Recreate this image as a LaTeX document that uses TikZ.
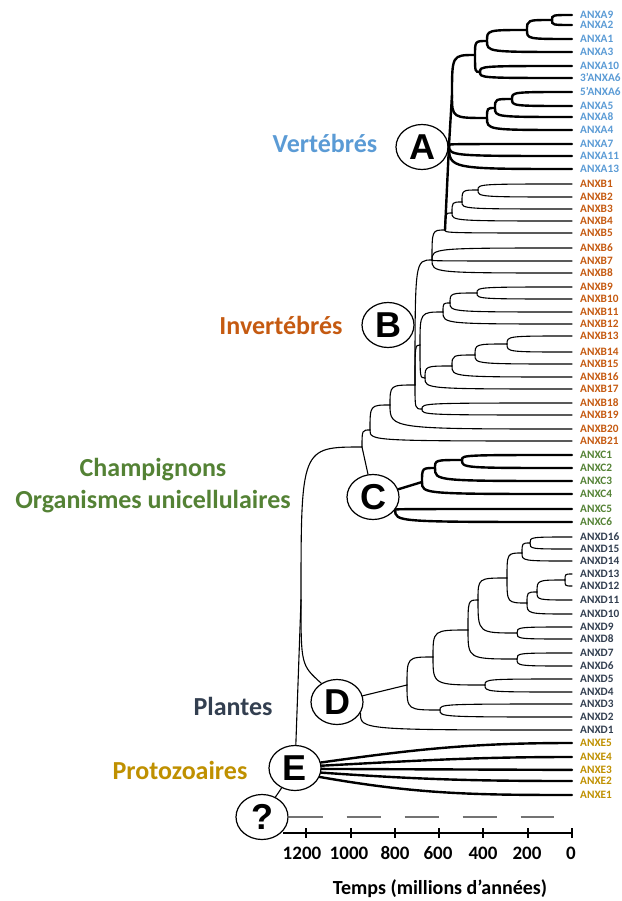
\documentclass[tikz,border=0pt]{standalone}
\usepackage{fontspec}
\setmainfont{Carlito}
\newfontfamily\circfont{Liberation Sans}
\usetikzlibrary{shapes.geometric}

\definecolor{vblue}{HTML}{5B9BD5}
\definecolor{iorange}{HTML}{C55A11}
\definecolor{cgreen}{HTML}{548235}
\definecolor{pslate}{HTML}{333F50}
\definecolor{pgold}{HTML}{BF9000}

% one branch: leaves the parent vertically, reaches the child horizontally
\newcommand{\br}[2]{\draw (#1) .. controls (#1 |- #2) .. (#2);}

\begin{document}
\begin{tikzpicture}[x=1pt,y=-1pt,
  thn/.style={line width=1.1pt,line cap=round},
  thk/.style={line width=2.4pt,line cap=round},
  leaf/.style={anchor=west,inner xsep=8pt,inner ysep=0pt,text height=7.3pt,text depth=0pt,
    font=\fontsize{11.3}{12}\selectfont\bfseries},
  lfA/.style={leaf,text=vblue},
  lfB/.style={leaf,text=iorange},
  lfC/.style={leaf,text=cgreen},
  lfD/.style={leaf,text=pslate},
  lfE/.style={leaf,text=pgold},
  grp/.style={ellipse,draw,line width=1.2pt,fill=white,minimum width=52pt,minimum height=45pt,
    inner sep=0pt,font=\circfont\bfseries\fontsize{36}{36}\selectfont},
  clade/.style={font=\fontsize{26}{30}\selectfont\bfseries},
  tick/.style={font=\fontsize{19}{20}\selectfont\bfseries}]
\useasboundingbox (0,0) rectangle (621,901);

% group circles
\node[grp] (cA) at (422,147) {A};
\node[grp] (cB) at (388,325) {B};
\node[grp] (cC) at (373,497) {C};
\node[grp] (cD) at (337,702) {D};
\node[grp] (cE) at (295,768) {E};
\node[grp] (cQ) at (262,817) {?};

% group names
\node[clade,text=vblue] (gA) at (325,143) {Vertébrés};
\node[clade,text=iorange] (gB) at (281,325) {Invertébrés};
\node[clade,text=cgreen] (gC1) at (153,470) {Champignons};
\node[clade,text=cgreen] (gC2) at (153,502) {Organismes unicellulaires};
\node[clade,text=pslate] (gD) at (233,706) {Plantes};
\node[clade,text=pgold] (gE) at (180,770) {Protozoaires};

% leaves
\node[lfA] (A9) at (572,15) {ANXA9};
\node[lfA] (A2) at (572,25) {ANXA2};
\node[lfA] (A1) at (572,39) {ANXA1};
\node[lfA] (A3) at (572,52) {ANXA3};
\node[lfA] (A10) at (572,66) {ANXA10};
\node[lfA] (A6b) at (572,78) {3’ANXA6};
\node[lfA] (A6a) at (572,92) {5’ANXA6};
\node[lfA] (A5) at (572,106) {ANXA5};
\node[lfA] (A8) at (572,117) {ANXA8};
\node[lfA] (A4) at (572,130) {ANXA4};
\node[lfA] (A7) at (572,144) {ANXA7};
\node[lfA] (A11) at (572,156) {ANXA11};
\node[lfA] (A13) at (572,169) {ANXA13};

\node[lfB] (B1) at (572,184) {ANXB1};
\node[lfB] (B2) at (572,197) {ANXB2};
\node[lfB] (B3) at (572,209) {ANXB3};
\node[lfB] (B4) at (572,221) {ANXB4};
\node[lfB] (B5) at (572,233) {ANXB5};
\node[lfB] (B6) at (572,248) {ANXB6};
\node[lfB] (B7) at (572,261) {ANXB7};
\node[lfB] (B8) at (572,273) {ANXB8};
\node[lfB] (B9) at (572,287) {ANXB9};
\node[lfB] (B10) at (572,299) {ANXB10};
\node[lfB] (B11) at (572,312) {ANXB11};
\node[lfB] (B12) at (572,324) {ANXB12};
\node[lfB] (B13) at (572,336) {ANXB13};
\node[lfB] (B14) at (572,352) {ANXB14};
\node[lfB] (B15) at (572,364) {ANXB15};
\node[lfB] (B16) at (572,377) {ANXB16};
\node[lfB] (B17) at (572,389) {ANXB17};
\node[lfB] (B18) at (572,403) {ANXB18};
\node[lfB] (B19) at (572,415) {ANXB19};
\node[lfB] (B20) at (572,429) {ANXB20};
\node[lfB] (B21) at (572,441) {ANXB21};

\node[lfC] (C1) at (572,455) {ANXC1};
\node[lfC] (C2) at (572,468) {ANXC2};
\node[lfC] (C3) at (572,481) {ANXC3};
\node[lfC] (C4) at (572,494) {ANXC4};
\node[lfC] (C5) at (572,509) {ANXC5};
\node[lfC] (C6) at (572,522) {ANXC6};

\node[lfD] (D16) at (572,537) {ANXD16};
\node[lfD] (D15) at (572,549) {ANXD15};
\node[lfD] (D14) at (572,561) {ANXD14};
\node[lfD] (D13) at (572,574) {ANXD13};
\node[lfD] (D12) at (572,586) {ANXD12};
\node[lfD] (D11) at (572,600) {ANXD11};
\node[lfD] (D10) at (572,614) {ANXD10};
\node[lfD] (D9) at (572,627) {ANXD9};
\node[lfD] (D8) at (572,639) {ANXD8};
\node[lfD] (D7) at (572,653) {ANXD7};
\node[lfD] (D6) at (572,666) {ANXD6};
\node[lfD] (D5) at (572,679) {ANXD5};
\node[lfD] (D4) at (572,692) {ANXD4};
\node[lfD] (D3) at (572,704) {ANXD3};
\node[lfD] (D2) at (572,717) {ANXD2};
\node[lfD] (D1) at (572,730) {ANXD1};

\node[lfE] (E5) at (572,743) {ANXE5};
\node[lfE] (E4) at (572,757) {ANXE4};
\node[lfE] (E3) at (572,770) {ANXE3};
\node[lfE] (E2) at (572,781) {ANXE2};
\node[lfE] (E1) at (572,795) {ANXE1};

% inner nodes
\coordinate (a1) at (552,20);
\coordinate (a2) at (527,30);
\coordinate (a3) at (487,41);
\coordinate (a4) at (480,72);
\coordinate (a5) at (475,55);
\coordinate (a6) at (512,99);
\coordinate (a7) at (495,108);
\coordinate (a8) at (487,118);
\coordinate (ra2) at (452,95);
\coordinate (ra) at (449,145);
\coordinate (nab) at (445,230);
\coordinate (b2) at (478,190);
\coordinate (b3) at (462,202);
\coordinate (b4) at (452,213);
\coordinate (n68) at (432,260);
\coordinate (b10) at (477,293);
\coordinate (b11) at (450,303);
\coordinate (b12) at (443,312);
\coordinate (b14) at (507,344);
\coordinate (b15) at (475,355);
\coordinate (b16) at (452,366);
\coordinate (b17) at (425,378);
\coordinate (b917) at (420,345);
\coordinate (b1819) at (422,409);
\coordinate (nb) at (415,385);
\coordinate (nb20) at (390,405);
\coordinate (nb21) at (370,430);
\coordinate (nbc) at (362,447);
\coordinate (c2) at (462,460);
\coordinate (c3) at (435,468);
\coordinate (c4) at (422,482);
\coordinate (c56) at (cC.-30);
\coordinate (d15) at (530,543);
\coordinate (d14) at (522,553);
\coordinate (d12) at (565,580);
\coordinate (d11) at (537,592);
\coordinate (d10) at (527,603);
\coordinate (dd) at (507,578);
\coordinate (d89) at (517,633);
\coordinate (dc) at (478,600);
\coordinate (d67) at (517,659);
\coordinate (db) at (468,630);
\coordinate (d45) at (485,685);
\coordinate (da) at (433,657);
\coordinate (d23) at (440,710);
\coordinate (dr) at (407,685);
\coordinate (ntr) at (301,600);

% vertebrates
\begin{scope}[thk]
\br{a1}{A9} \br{a1}{A2}
\br{a2}{a1} \br{a2}{A1}
\br{a3}{a2} \br{a3}{A3}
\br{a4}{A10} \br{a4}{A6b}
\br{a5}{a3} \br{a5}{a4}
\br{a6}{A6a} \br{a6}{A5}
\br{a7}{a6} \br{a7}{A8}
\br{a8}{a7} \br{a8}{A4}
\br{ra2}{a5} \br{ra2}{a8}
\br{ra}{A7} \br{ra}{A11} \br{ra}{A13}
\draw (ra) -- (ra2);
\draw (nab) -- (ra);
\end{scope}

% invertebrates
\begin{scope}[thn]
\br{b2}{B1} \br{b2}{B2}
\br{b3}{b2} \br{b3}{B3}
\br{b4}{b3} \br{b4}{B4}
\br{nab}{b4} \br{nab}{B5}
\br{n68}{nab} \br{n68}{B6} \br{n68}{B7} \br{n68}{B8}
\br{b10}{B9} \br{b10}{B10}
\br{b11}{b10} \br{b11}{B11}
\br{b12}{b11} \br{b12}{B12}
\br{b14}{B13} \br{b14}{B14}
\br{b15}{b14} \br{b15}{B15}
\br{b16}{b15} \br{b16}{B16}
\br{b17}{b16} \br{b17}{B17}
\br{b917}{b12} \br{b917}{b17}
\br{b1819}{B18} \br{b1819}{B19}
\br{nb}{n68} \br{nb}{b917} \br{nb}{b1819}
\br{nb20}{nb} \br{nb20}{B20}
\br{nb21}{nb20} \br{nb21}{B21}
\br{nbc}{nb21}
\draw (nbc) -- (cC);
\end{scope}

% fungi and unicellular organisms
\begin{scope}[thk]
\draw (cC) -- (c4);
\br{c4}{c3} \br{c4}{C4}
\br{c3}{c2} \br{c3}{C3}
\br{c2}{C1} \br{c2}{C2}
\br{c56}{C5} \br{c56}{C6}
\end{scope}

% plants
\begin{scope}[thn]
\br{d15}{D16} \br{d15}{D15}
\br{d14}{d15} \br{d14}{D14}
\br{d12}{D13} \br{d12}{D12}
\br{d11}{d12} \br{d11}{D11}
\br{d10}{d11} \br{d10}{D10}
\br{dd}{d14} \br{dd}{d10}
\br{d89}{D9} \br{d89}{D8}
\br{dc}{dd} \br{dc}{d89}
\br{d67}{D7} \br{d67}{D6}
\br{db}{dc} \br{db}{d67}
\br{d45}{D5} \br{d45}{D4}
\br{da}{db} \br{da}{d45}
\br{d23}{D3} \br{d23}{D2}
\br{dr}{da} \br{dr}{d23}
\draw (cD) -- (dr);
\draw (cD.-25) .. controls (cD.-25 |- D1) .. (D1);
\end{scope}

% trunk
\begin{scope}[thn]
\draw (cE) -- (ntr);
\br{ntr}{nbc}
\draw (ntr) .. controls (301,665) .. (cD.130);
\draw (cQ) -- (cE);
\end{scope}

% protozoa
\begin{scope}[thk]
\draw (cE.12) to[out=8,in=180] (E5);
\draw (cE.5) to[out=3,in=180] (E4);
\draw (cE.-2) -- (E3);
\draw (cE.-10) to[out=-4,in=180] (E2);
\draw (cE.-20) to[out=-10,in=180] (E1);
\end{scope}

% unknown origin
\coordinate (qend) at (554,817);
\draw[black!55,line width=2pt,dash pattern=on 34pt off 24pt] (cQ.east) -- (qend);

% time axis
\coordinate (ax0) at (283,833);
\coordinate (ax1) at (573,833);
\draw[line width=2.4pt] (ax0) -- (ax1);
\draw[line width=2pt] (572,828) -- (572,838);
\draw[line width=2pt] (527.7,828) -- (527.7,838);
\draw[line width=2pt] (483.4,828) -- (483.4,838);
\draw[line width=2pt] (439.1,828) -- (439.1,838);
\draw[line width=2pt] (394.8,828) -- (394.8,838);
\draw[line width=2pt] (350.5,828) -- (350.5,838);
\draw[line width=2pt] (306.2,828) -- (306.2,838);
\node[tick] (t0) at (571,853) {0};
\node[tick] (t200) at (527,853) {200};
\node[tick] (t400) at (483,853) {400};
\node[tick] (t600) at (438,853) {600};
\node[tick] (t800) at (395,853) {800};
\node[tick] (t1000) at (349,853) {1000};
\node[tick] (t1200) at (302,853) {1200};
\node[font=\fontsize{20}{22}\selectfont\bfseries,inner sep=0pt] (axl) at (440,889) {Temps (millions d’années)};
\end{tikzpicture}
\end{document}
